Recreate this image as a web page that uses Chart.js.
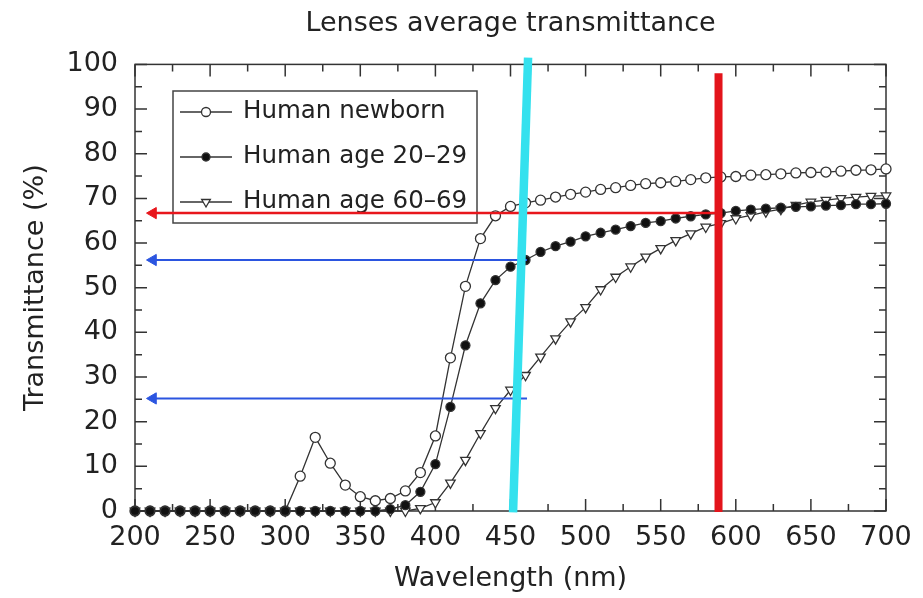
<!DOCTYPE html>
<html>
<head>
<meta charset="utf-8">
<title>Lenses average transmittance</title>
<script src="https://cdn.jsdelivr.net/npm/chart.js@4.4.1/dist/chart.umd.min.js"></script>
<style>
  html, body { margin: 0; padding: 0; background: #fff; }
</style>
</head>
<body>
<canvas id="lensChart" width="923" height="598"></canvas>
<script>
// ── data ─────────────────────────────────────────────────────
var wavelengths = [200, 210, 220, 230, 240, 250, 260, 270, 280, 290,
                   300, 310, 320, 330, 340, 350, 360, 370, 380, 390,
                   400, 410, 420, 430, 440, 450, 460, 470, 480, 490,
                   500, 510, 520, 530, 540, 550, 560, 570, 580, 590,
                   600, 610, 620, 630, 640, 650, 660, 670, 680, 690, 700];

var newborn = [0, 0, 0, 0, 0, 0, 0, 0, 0, 0,
               0, 7.8, 16.5, 10.7, 5.8, 3.2, 2.3, 2.8, 4.5, 8.6,
               16.8, 34.3, 50.3, 61.0, 66.1, 68.2, 69.0, 69.6, 70.3, 70.9,
               71.4, 72.0, 72.4, 72.9, 73.3, 73.5, 73.8, 74.2, 74.6, 74.8,
               74.9, 75.2, 75.3, 75.5, 75.7, 75.8, 75.9, 76.1, 76.3, 76.4, 76.6];

var age20to29 = [0, 0, 0, 0, 0, 0, 0, 0, 0, 0,
                 0, 0, 0, 0, 0, 0, 0, 0.4, 1.3, 4.3,
                 10.5, 23.3, 37.1, 46.5, 51.7, 54.7, 56.2, 58.0, 59.3, 60.3,
                 61.5, 62.3, 63.0, 63.8, 64.5, 64.9, 65.5, 66.0, 66.4, 66.7,
                 67.2, 67.5, 67.7, 67.9, 68.1, 68.2, 68.4, 68.5, 68.7, 68.7, 68.8];

var age60to69 = [0, 0, 0, 0, 0, 0, 0, 0, 0, 0,
                 0, 0, 0, 0, 0, 0, 0, 0, 0, 0.6,
                 1.9, 6.3, 11.4, 17.4, 23.0, 27.1, 30.4, 34.5, 38.6, 42.4,
                 45.6, 49.6, 52.4, 54.7, 56.9, 58.8, 60.6, 62.1, 63.6, 64.4,
                 65.5, 66.2, 67.0, 67.6, 68.5, 69.2, 69.6, 70.0, 70.3, 70.5, 70.6];

var seriesNames = ['Human newborn', 'Human age 20\u201329', 'Human age 60\u201369'];

// guide lines drawn over the plot (wavelength, transmittance)
var cyanLine = [[451.7, -0.3], [461.7, 101.5]];
var redLine  = [[588.5, -0.2], [588.5, 98]];
var redArrow   = [[588.5, 66.7], [212, 66.7]];
var blueArrow1 = [[461, 56.2], [212, 56.2]];
var blueArrow2 = [[461, 25.2], [212, 25.2]];

// ── helpers ──────────────────────────────────────────────────
function toPoints(ys) {
    return wavelengths.map(function (w, i) { return { x: w, y: ys[i] }; });
}
function pairs(list) {
    return list.map(function (p) { return { x: p[0], y: p[1] }; });
}

var INK = '#222';
var FONT = 'DejaVu Sans';
Chart.defaults.font.family = FONT;
Chart.defaults.color = INK;

var seriesStyle = [
    { pointStyle: 'circle',   rotation: 0,   radius: 5,   fill: '#fff' },
    { pointStyle: 'circle',   rotation: 0,   radius: 4.5, fill: '#111' },
    { pointStyle: 'triangle', rotation: 180, radius: 5.5, fill: '#fff' }
];

function seriesDataset(i, ys, order) {
    var s = seriesStyle[i];
    return {
        label: seriesNames[i],
        data: toPoints(ys),
        borderColor: '#333',
        borderWidth: 1.3,
        pointStyle: s.pointStyle,
        pointRotation: s.rotation,
        pointRadius: s.radius,
        pointBackgroundColor: s.fill,
        pointBorderColor: '#333',
        pointBorderWidth: 1.3,
        tension: 0,
        clip: 10,
        order: order
    };
}

function arrowDataset(pts, color, width) {
    return {
        data: pairs(pts),
        borderColor: color,
        borderWidth: width,
        pointStyle: 'triangle',
        pointRotation: -90,
        pointRadius: [0, 6.5],
        pointBackgroundColor: color,
        pointBorderColor: color,
        pointBorderWidth: 1,
        clip: false,
        order: -1
    };
}

// ── frame, inward ticks and boxed legend ─────────────────────
var framePlugin = {
    id: 'frame',
    beforeDatasetsDraw: function (chart) {
        var ctx = chart.ctx, a = chart.chartArea;
        var xs = chart.scales.x, ys = chart.scales.y;
        ctx.save();
        ctx.strokeStyle = '#333';
        ctx.lineWidth = 1.5;
        ctx.strokeRect(a.left, a.top, a.right - a.left, a.bottom - a.top);

        ctx.beginPath();
        for (var w = 200; w <= 700; w += 25) {
            var px = xs.getPixelForValue(w);
            var len = (w % 50 === 0) ? 12 : 7;
            ctx.moveTo(px, a.bottom); ctx.lineTo(px, a.bottom - len);
            ctx.moveTo(px, a.top);    ctx.lineTo(px, a.top + len);
        }
        for (var v = 0; v <= 100; v += 5) {
            var py = ys.getPixelForValue(v);
            var l2 = (v % 10 === 0) ? 12 : 7;
            ctx.moveTo(a.left, py);  ctx.lineTo(a.left + l2, py);
            ctx.moveTo(a.right, py); ctx.lineTo(a.right - l2, py);
        }
        ctx.stroke();

        // legend box
        var bx = 173, by = 91, bw = 304, bh = 132;
        ctx.fillStyle = '#fff';
        ctx.fillRect(bx, by, bw, bh);
        ctx.strokeStyle = '#444';
        ctx.lineWidth = 1.5;
        ctx.strokeRect(bx, by, bw, bh);

        ctx.font = '24.5px "' + FONT + '"';
        ctx.textBaseline = 'middle';
        ctx.textAlign = 'left';
        for (var i = 0; i < seriesNames.length; i++) {
            var ry = 112 + i * 45;
            var s = seriesStyle[i];
            ctx.strokeStyle = '#333';
            ctx.lineWidth = 1.3;
            ctx.beginPath();
            ctx.moveTo(180, ry); ctx.lineTo(232, ry);
            ctx.stroke();
            ctx.fillStyle = s.fill;
            Chart.helpers.drawPoint(ctx, {
                pointStyle: s.pointStyle, rotation: s.rotation,
                radius: s.radius - 0.5, borderWidth: 1.3
            }, 206, ry);
            ctx.fillStyle = INK;
            ctx.fillText(seriesNames[i], 243, ry);
        }
        ctx.restore();
    }
};

new Chart(document.getElementById('lensChart'), {
    type: 'line',
    data: {
        datasets: [
            { data: pairs(cyanLine), borderColor: '#34e1ee', borderWidth: 8.5, pointRadius: 0, clip: false, order: -4 },
            { data: pairs(redLine),  borderColor: '#e3141b', borderWidth: 8,   pointRadius: 0, clip: false, order: -3 },
            arrowDataset(redArrow,   '#e8161c', 2.5),
            arrowDataset(blueArrow1, '#2b55e0', 2),
            arrowDataset(blueArrow2, '#2b55e0', 2),
            seriesDataset(1, age20to29, 1),
            seriesDataset(0, newborn, 2),
            seriesDataset(2, age60to69, 3)
        ]
    },
    options: {
        responsive: false,
        animation: false,
        events: [],
        devicePixelRatio: 1,
        layout: { padding: { left: 0, right: 37, top: 0, bottom: 0 } },
        plugins: {
            legend: { display: false },
            tooltip: { enabled: false },
            title: {
                display: true,
                fullSize: false,
                text: 'Lenses average transmittance',
                color: INK,
                font: { size: 27, weight: 'normal' },
                padding: { top: 8, bottom: 24 }
            }
        },
        scales: {
            x: {
                type: 'linear',
                min: 200, max: 700,
                grid: { display: false, drawTicks: false },
                border: { display: false },
                ticks: { stepSize: 50, padding: 11, color: INK, font: { size: 27 } },
                title: {
                    display: true, text: 'Wavelength (nm)', color: INK,
                    font: { size: 27 }, padding: { top: 0, bottom: 3 }
                },
                afterFit: function (s) { s.height = 87; }
            },
            y: {
                min: 0, max: 100,
                grid: { display: false, drawTicks: false },
                border: { display: false },
                ticks: { stepSize: 10, padding: 17, color: INK, font: { size: 27 } },
                title: {
                    display: true, text: 'Transmittance (%)', color: INK,
                    font: { size: 27 }, padding: { top: 20, bottom: 0 }
                },
                afterFit: function (s) { s.width = 135; }
            }
        }
    },
    plugins: [framePlugin]
});
</script>
</body>
</html>
